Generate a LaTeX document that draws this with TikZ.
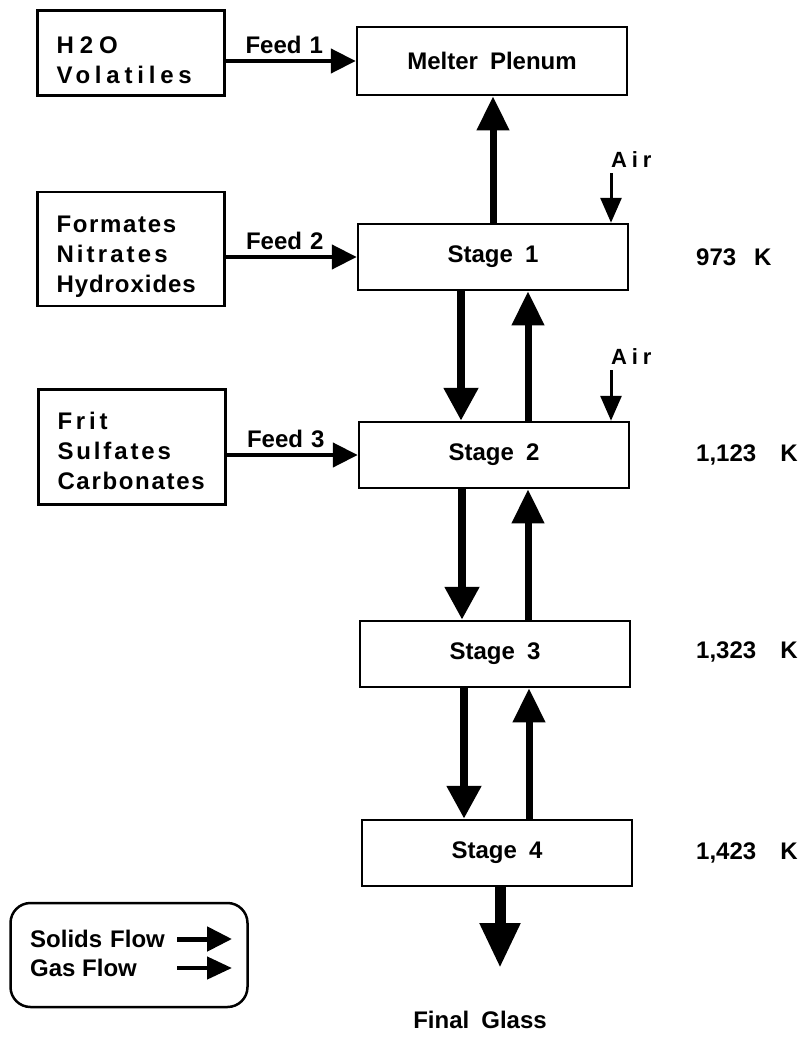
\documentclass[tikz,border=0pt]{standalone}
\usepackage{fontspec}
\setmainfont{Liberation Sans}
\usetikzlibrary{arrows.meta}
\newcommand{\spread}[2]{{\addfontfeature{LetterSpace=#1}#2}}
\tikzset{lbl/.style={draw=none, fill=none, inner sep=2pt,
  font=\fontsize{24}{28}\selectfont\bfseries}}

\begin{document}
\begin{tikzpicture}[x=1pt, y=-1pt,
  every node/.style={font=\fontsize{24}{30}\selectfont\bfseries},
  box/.style={draw, line width=2.5pt},
  stage/.style={box, minimum width=270pt, minimum height=66pt},
  feedbox/.style={box, align=left, text width=149pt, inner xsep=19pt,
    inner ysep=0pt},
  solids/.style={line width=8pt, -{Triangle[length=33pt, width=33pt]}},
  gas/.style={line width=7pt, -{Triangle[length=34pt, width=31pt]}},
  feed/.style={line width=4.5pt, -{Triangle[length=25pt, width=24pt]}},
  air/.style={line width=3pt, -{Triangle[length=25pt, width=21pt]}}]
  \useasboundingbox (0,0) rectangle (811,1041);
  % feed boxes
  \node[feedbox, minimum height=85pt] (h2o) at (131,53)
    {\rule{0pt}{32pt}\spread{25}{H2O}\\ \spread{20}{Volatiles}};
  \node[feedbox, minimum height=114pt] (form) at (131,249)
    {\rule{0pt}{32pt}\spread{7}{Formates}\\ \spread{13}{Nitrates}\\
     \spread{4}{Hydroxides}};
  \node[feedbox, minimum height=115pt] (frit) at (132,447)
    {\rule{0pt}{26pt}\spread{16}{Frit}\\ \spread{12}{Sulfates}\\
     \spread{7}{Carbonates}};
  % melter stages
  \node[stage, minimum height=68pt] (melter) at (492,61)
    {Melter\hspace{12pt}Plenum};
  \node[stage] (st1) at (493,257) {Stage\hspace{12pt}1};
  \node[stage] (st2) at (494,455) {Stage\hspace{12pt}2};
  \node[stage] (st3) at (495,654) {Stage\hspace{12pt}3};
  \node[stage] (st4) at (497,853) {Stage\hspace{12pt}4};
  % feeds
  \draw[feed] (h2o.east |- melter.west) --
    node[lbl, above=3pt, pos=0.45] {Feed\hspace{8pt}1} (melter.west);
  \draw[feed] (form.east |- st1.west) --
    node[lbl, above=3pt, pos=0.45] {Feed\hspace{8pt}2} (st1.west);
  \draw[feed] (frit.east |- st2.west) --
    node[lbl, above=3pt, pos=0.45] {Feed\hspace{8pt}3} (st2.west);
  % air inlets
  \coordinate (air1) at (611,173);
  \coordinate (air2) at (611,370);
  \draw[air] (air1) -- (air1 |- st1.north);
  \draw[air] (air2) -- (air2 |- st2.north);
  \node[lbl, anchor=south west, font=\fontsize{22}{26}\selectfont\bfseries]
    at ([xshift=-2pt, yshift=3pt]air1) {\spread{22}{Air}};
  \node[lbl, anchor=south west, font=\fontsize{22}{26}\selectfont\bfseries]
    at ([xshift=-2pt, yshift=3pt]air2) {\spread{22}{Air}};
  % solids down, gas up
  \draw[gas] (st1.north) -- (st1.north |- melter.south);
  \draw[solids] ([xshift=-32pt]st1.south) -- ([xshift=-32pt]st1.south |- st2.north);
  \draw[gas] ([xshift=34pt]st2.north) -- ([xshift=34pt]st2.north |- st1.south);
  \draw[solids] ([xshift=-32pt]st2.south) -- ([xshift=-32pt]st2.south |- st3.north);
  \draw[gas] ([xshift=33pt]st3.north) -- ([xshift=33pt]st3.north |- st2.south);
  \draw[solids] ([xshift=-31pt]st3.south) -- ([xshift=-31pt]st3.south |- st4.north);
  \draw[gas] ([xshift=32pt]st4.north) -- ([xshift=32pt]st4.north |- st3.south);
  \coordinate (glass) at (500,968);
  \draw[line width=11pt, -{Triangle[length=45pt, width=38pt]}]
    (glass |- st4.south) -- (glass);
  \node[lbl] (final) at (480,1020) {Final\hspace{12pt}Glass};
  % temperatures
  \node[lbl, anchor=west] (t1) at (694,257) {973\hspace{18pt}K};
  \node[lbl, anchor=west] (t2) at (694,455) {1,123\hspace{24pt}K};
  \node[lbl, anchor=west] (t3) at (694,652) {1,323\hspace{24pt}K};
  \node[lbl, anchor=west] (t4) at (694,853) {1,423\hspace{24pt}K};
  % legend
  \node[box, rounded corners=20pt, minimum width=237pt,
    minimum height=104pt] (legend) at (129,955) {};
  \node[lbl, anchor=west] (solidlbl) at (28,939) {Solids\hspace{8pt}Flow};
  \node[lbl, anchor=west] (gaslbl) at (28,968) {Gas Flow};
  \coordinate (sa) at (177,939);
  \coordinate (sb) at (232,939);
  \coordinate (ga) at (177,968);
  \coordinate (gb) at (232,968);
  \draw[line width=5pt, -{Triangle[length=25pt, width=24pt]}] (sa) -- (sb);
  \draw[line width=4.5pt, -{Triangle[length=25pt, width=22pt]}] (ga) -- (gb);
\end{tikzpicture}
\end{document}
